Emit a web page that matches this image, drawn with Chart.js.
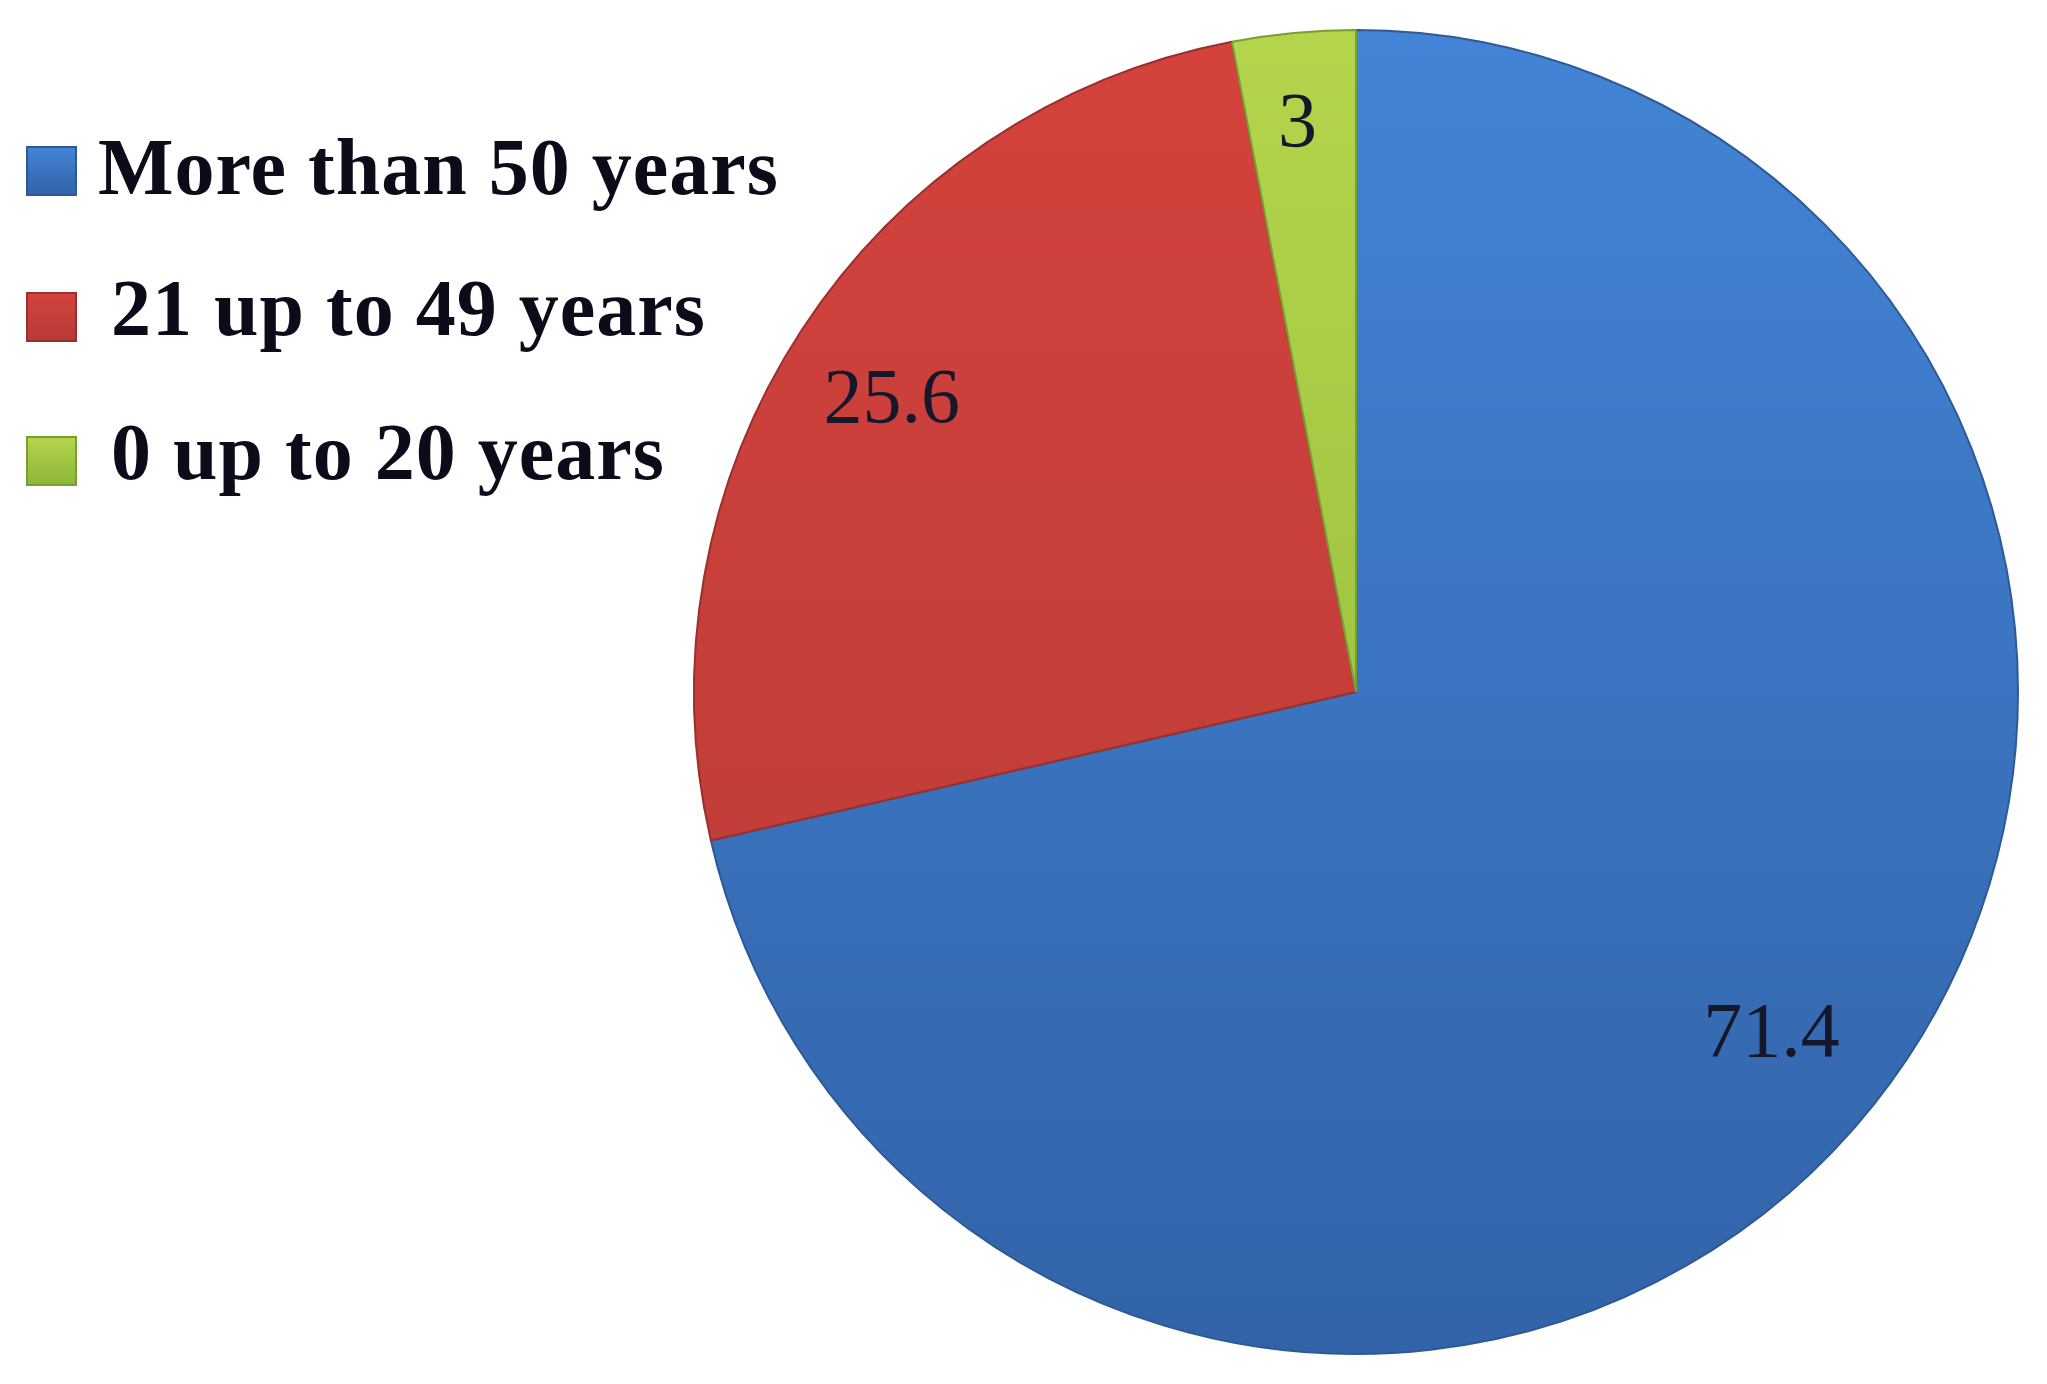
<!DOCTYPE html>
<html>
<head>
<meta charset="utf-8">
<script src="https://cdn.jsdelivr.net/npm/chart.js@4.4.1/dist/chart.umd.min.js"></script>
<style>
  html, body { margin: 0; padding: 0; background: #ffffff; }
  #wrap { position: relative; width: 2047px; height: 1384px; }
  #pieChart { position: absolute; left: 0; top: 0; }
  #legend { position: absolute; left: 26px; top: 0; font-family: "Liberation Serif", "Times New Roman", serif; font-weight: bold; font-size: 80px; color: #0b0b1a; }
  .item { position: absolute; left: 0; white-space: nowrap; }
  .box { position: absolute; left: 0; width: 51px; height: 50px; box-sizing: border-box; }
  .txt { position: absolute; line-height: 1; letter-spacing: 1px; }
</style>
</head>
<body>
<div id="wrap">
  <canvas id="pieChart" width="2047" height="1384"></canvas>
  <div id="legend"></div>
</div>
<script>
// categories and values (percent)
var labels = ["More than 50 years", "21 up to 49 years", "0 up to 20 years"];
var values = [71.4, 25.6, 3];
var valueText = ["71.4", "25.6", "3"];

// top / bottom shades for each slice
var topColors = ["#4384d6", "#d4423d", "#b4d44c"];
var bottomColors = ["#3263a8", "#b63b37", "#8cb63a"];
var edgeColors = ["#2c5a97", "#9a302c", "#78a030"];

// where the value sits, as a share of the radius
var labelRadius = [0.81, 0.83, 0.875];

function sliceFill(ctx) {
  var chart = ctx.chart;
  var area = chart.chartArea;
  if (!area) return topColors[ctx.dataIndex];
  var g = chart.ctx.createLinearGradient(0, area.top, 0, area.bottom);
  g.addColorStop(0, topColors[ctx.dataIndex]);
  g.addColorStop(1, bottomColors[ctx.dataIndex]);
  return g;
}

// values written on the slices
var sliceLabels = {
  id: 'sliceLabels',
  afterDatasetsDraw: function(chart) {
    var c = chart.ctx;
    var meta = chart.getDatasetMeta(0);
    c.save();
    c.font = '78px "Liberation Serif", "Times New Roman", serif';
    c.fillStyle = '#15182a';
    c.textAlign = 'center';
    c.textBaseline = 'middle';
    meta.data.forEach(function(arc, i) {
      var p = arc.getProps(['x', 'y', 'startAngle', 'endAngle', 'outerRadius'], true);
      var mid = (p.startAngle + p.endAngle) / 2;
      var r = p.outerRadius * labelRadius[i];
      c.fillText(valueText[i], p.x + Math.cos(mid) * r - 4, p.y + Math.sin(mid) * r + 10);
    });
    c.restore();
  }
};

var pie = new Chart(document.getElementById('pieChart'), {
  type: 'pie',
  data: {
    labels: labels,
    datasets: [{
      data: values,
      backgroundColor: sliceFill,
      borderColor: edgeColors,
      borderWidth: 2
    }]
  },
  options: {
    responsive: false,
    animation: false,
    radius: 662,
    layout: { padding: { left: 690, right: 25, top: 30, bottom: 30 } },
    plugins: {
      legend: { display: false },
      tooltip: { enabled: false }
    }
  },
  plugins: [sliceLabels]
});

// legend on the top left
var legendTops = [146, 292, 436];
var legendTextLeft = [72, 85, 85];
var html = "";
labels.forEach(function(l, i) {
  html += "<div class='item' style='top:" + legendTops[i] + "px'>";
  html += "<div class='box' style='background:linear-gradient(" + topColors[i] + "," + bottomColors[i] + ");border:2px solid " + edgeColors[i] + "'></div>";
  html += "<div class='txt' style='top:" + (i == 0 ? -19 : -24) + "px;left:" + legendTextLeft[i] + "px'>" + l + "</div>";
  html += "</div>";
});
document.getElementById('legend').innerHTML = html;
</script>
</body>
</html>
